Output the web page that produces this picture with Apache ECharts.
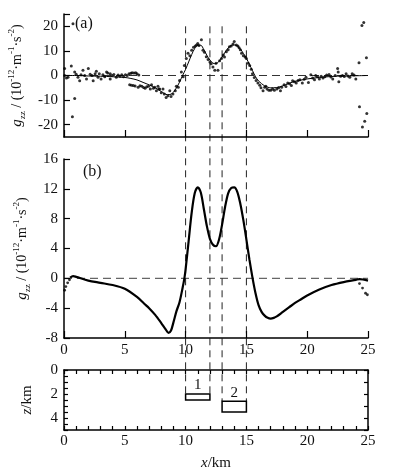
<!DOCTYPE html>
<html lang="en">
<head>
    <meta charset="UTF-8"/>
    <title>gzz</title>
    <script src="https://cdn.jsdelivr.net/npm/echarts@6/dist/echarts.min.js"></script>
    <style>
        html, body { margin: 0; padding: 0; background: #fff; }
        #main { width: 398px; height: 473px; }
    </style>
</head>
<body>
<div id="main"></div>
<script type="text/javascript">
    // (a) 观测数据（带噪声）与理论曲线
    var aDots = [
        [0.05, 2.8], [0.05, 0], [0.2, -1], [0.33, -0.7], [0.6, 3.9], [0.74, 21], [0.69, -16.8], [0.88, -9.3],
        [0.88, 1.4], [1.0, 0.5], [1.15, -0.7], [1.29, -2.1], [1.4, 0.3], [1.56, 2.1], [1.7, 0], [1.85, -1.4],
        [2.0, 2.8], [2.15, 0.5], [2.3, 0], [2.4, -2.1], [2.56, 0.7], [2.66, 1.7], [2.8, -0.7], [2.9, 0.7],
        [3.05, -1.4], [3.2, 0.3], [3.35, -0.5], [3.5, 1.4], [3.6, 1.0], [3.8, 0.7], [3.8, -1.4], [3.95, 0],
        [4.1, 0.4], [4.3, -0.7], [4.45, 0.2], [4.6, -0.3], [4.75, 0.3], [4.9, -0.5], [5.05, 0.3], [5.2, 0],
        [5.35, 0.7], [5.5, 0.9], [5.6, 1.1], [5.75, 1.0], [5.9, 1.1], [6.0, 0.7], [6.15, 0.2],
        [5.4, -3.8], [5.55, -4.0], [5.7, -4.1], [5.85, -4.3], [6.1, -4.8], [6.25, -4.2], [6.4, -4.4],
        [6.55, -4.9], [6.67, -5.2], [6.8, -4.6], [6.95, -4.4], [7.1, -5.5], [7.2, -3.8], [7.35, -5.2],
        [7.46, -4.8], [7.6, -6.2], [7.73, -4.4], [7.8, -5.5], [7.87, -5.5], [8.0, -7.0], [8.14, -5.5],
        [8.25, -7.5], [8.4, -8.9], [8.55, -8.2], [8.7, -6.2], [8.8, -8.5], [8.96, -7.5], [9.15, -6.2],
        [9.24, -4.4], [9.4, -4.8], [9.5, -2.0], [9.65, 1.4], [9.8, -0.5], [9.9, 4.1], [10.06, 6.9],
        [10.2, 9.0], [10.35, 8.0], [10.5, 10.3], [10.65, 11.5], [10.8, 12.0], [10.9, 12.4], [11.0, 13.0],
        [11.1, 12.2], [11.3, 14.5], [11.43, 10.3], [11.55, 9.5], [11.7, 7.6], [11.85, 6.5], [12.0, 5.5],
        [12.1, 4.8], [12.25, 3.5], [12.4, 2.1], [12.5, 5.0], [12.66, 2.1], [12.8, 6.0], [12.95, 6.9],
        [13.1, 8.3], [13.2, 7.5], [13.35, 9.7], [13.5, 10.5], [13.6, 11.7], [13.75, 12.0], [13.9, 12.8],
        [14.0, 13.8], [14.17, 12.4], [14.3, 12.0], [14.4, 11.3], [14.5, 10.5], [14.6, 9.0], [14.75, 8.0],
        [14.9, 7.5], [15.0, 6.9], [15.15, 5.0], [15.27, 4.1], [15.4, 2.5], [15.5, 0.7], [15.65, -0.8],
        [15.8, -2.0], [15.95, -3.0], [16.1, -4.0], [16.2, -5.0], [16.37, -6.2], [16.5, -4.8], [16.6, -4.4],
        [16.7, -5.5], [16.85, -6.0], [17.0, -6.0], [17.15, -5.5], [17.3, -6.0], [17.5, -5.5], [17.65, -5.0],
        [17.8, -6.2], [17.9, -4.8], [18.1, -3.8], [18.25, -4.5], [18.4, -3.0], [18.55, -3.4], [18.7, -4.1],
        [18.8, -2.1], [18.95, -2.5], [19.1, -3.0], [19.25, -2.0], [19.4, -1.7], [19.6, -3.0], [19.75, -1.5],
        [19.9, -0.7], [20.1, -2.8], [20.3, 0.3], [20.45, -1.0], [20.6, -1.7], [20.7, 0], [20.85, -0.5],
        [21.0, -1.4], [21.15, -0.3], [21.3, -1.0], [21.45, -0.5], [21.6, 0.2], [21.8, 0.4], [21.95, -0.6],
        [22.1, -1.4], [22.3, 0], [22.5, 2.8], [22.55, 1.4], [22.6, -2.5], [22.75, -0.3], [22.9, 0],
        [23.05, -0.4], [23.2, 0.7], [23.35, -0.2], [23.5, -0.7], [23.7, 0.7], [23.85, 0.2], [24.0, -1.4],
        [24.26, 5.2], [24.87, 7.2], [24.5, 20.3], [24.65, 21.5], [24.3, -12.7], [24.9, -15.4],
        [24.73, -18.6], [24.54, -20.9]
    ];
    var aLineX = [0, 1, 2, 3, 4, 5, 5.5, 6, 6.5, 7, 7.5, 8, 8.5, 8.8, 9.0, 9.25, 9.5, 9.75, 10, 10.25, 10.5,
        10.75, 11, 11.25, 11.5, 11.75, 12, 12.25, 12.5, 12.75, 13, 13.25, 13.5, 13.75, 14, 14.25, 14.5, 14.75,
        15, 15.25, 15.5, 15.75, 16, 16.5, 17, 17.5, 18, 18.5, 19, 20, 21, 22, 23, 24, 25];
    var aLineY = [0, 0, -0.2, -0.3, -0.5, -0.8, -1.2, -1.8, -2.8, -3.8, -5, -6.5, -7.8, -7.6, -6.8, -5, -2.7, 0,
        2.5, 5.5, 8.5, 11, 12.3, 12.3, 10.5, 8.2, 6.3, 5, 4.8, 5.8, 7.5, 9.5, 11.2, 12.2, 12.4, 12, 10.8, 9,
        7, 4.5, 2, -0.5, -2.2, -4.2, -5, -4.9, -4.2, -3.2, -2.4, -1.4, -0.8, -0.4, -0.2, -0.1, 0];

    // (b) 处理结果
    var bLineX = [0.5, 0.75, 1, 2, 3, 4, 5, 6, 6.6, 7, 7.5, 8, 8.3, 8.6, 8.8, 9.0, 9.25, 9.5, 9.75, 9.9, 10,
        10.25, 10.5, 10.75, 11, 11.25, 11.5, 11.75, 12, 12.25, 12.5, 12.75, 13, 13.25, 13.5, 13.75, 14, 14.25,
        14.5, 14.75, 15, 15.25, 15.5, 15.75, 16, 16.25, 16.5, 16.75, 17, 17.25, 17.5, 18, 18.5, 19, 19.5, 20,
        21, 22, 23, 24, 24.3, 25];
    var bLineY = [0.1, 0.3, 0.2, -0.3, -0.6, -0.9, -1.4, -2.5, -3.4, -4.0, -4.9, -6.0, -6.7, -7.3, -7.0, -5.9,
        -4.4, -3.2, -1.3, 0, 1.2, 5.0, 8.8, 11.4, 12.2, 11.5, 9.3, 7.0, 5.3, 4.5, 4.3, 5.2, 7.2, 9.6, 11.4,
        12.1, 12.2, 11.6, 10.0, 7.8, 5.2, 2.5, 0.1, -2.0, -3.6, -4.5, -5.0, -5.3, -5.4, -5.3, -5.1, -4.5,
        -3.9, -3.3, -2.8, -2.3, -1.5, -0.9, -0.5, -0.2, -0.1, -0.3];
    var bDots = [[0.05, -1.6], [0.15, -1.1], [0.3, -0.6], [0.45, -0.2],
        [24.3, -0.7], [24.55, -1.3], [24.8, -2.0], [24.95, -2.2]];

    // (c) 模型体
    var bodyName = ['1', '2'];
    var bodyX0 = [10, 13];
    var bodyX1 = [12, 15];
    var bodyTop = [2.0, 2.6];
    var bodyBottom = [2.5, 3.5];

    // 刻度
    var aTicks = [-20, -10, 0, 10, 20];
    var xMajor = [0, 5, 10, 15, 20, 25];
    var zLabels = [0, 2, 4];
    var dashX = [10, 12, 13, 15];
    var dashTop = 20;

    var serif = '"Liberation Serif", "DejaVu Serif", serif';
    var ink = '#111';

    function zip(xs, ys) {
        return xs.map(function (x, i) { return [x, ys[i]]; });
    }

    var gzzName = '{g|g}{sub|zz}{t| / (10}{sup|-12}{t|·m}{sup|-1}{t|·s}{sup|-2}{t|)}';
    var gzzRich = {
        g: {fontFamily: serif, fontStyle: 'italic', fontSize: 15, lineHeight: 20, color: ink},
        sub: {fontFamily: serif, fontSize: 9, verticalAlign: 'bottom', color: ink},
        t: {fontFamily: serif, fontSize: 14, lineHeight: 20, color: ink},
        sup: {fontFamily: serif, fontSize: 9, verticalAlign: 'top', color: ink}
    };
    var unitRich = {
        i: {fontFamily: serif, fontStyle: 'italic', fontSize: 15, color: ink},
        t: {fontFamily: serif, fontSize: 15, color: ink}
    };

    var axisLine = {onZero: false, lineStyle: {color: '#000', width: 1.5}};
    var labelStyle = {fontFamily: serif, fontSize: 15, color: ink};

    var myChart = echarts.init(document.getElementById('main'));

    var option = {
        animation: false,
        backgroundColor: '#fff',
        grid: [
            {left: 64, width: 304, top: 14, height: 123, outerBoundsMode: 'none'},
            {left: 64, width: 304, top: 159, height: 179, outerBoundsMode: 'none'},
            {left: 64, width: 304, top: 370, height: 60, outerBoundsMode: 'none'}
        ],
        xAxis: [
            {
                type: 'value', gridIndex: 0, min: 0, max: 25, interval: 5,
                axisLine: axisLine, axisTick: {inside: true, length: 7, lineStyle: {color: '#000', width: 1.2}},
                axisLabel: {show: false}, splitLine: {show: false}
            },
            {
                type: 'value', gridIndex: 1, min: 0, max: 25, interval: 5,
                axisLine: axisLine, axisTick: {inside: true, length: 7, lineStyle: {color: '#000', width: 1.2}},
                axisLabel: Object.assign({margin: 5}, labelStyle), splitLine: {show: false}
            },
            {
                type: 'value', gridIndex: 2, min: 0, max: 25, interval: 1,
                axisLine: axisLine, axisTick: {inside: true, length: 4, lineStyle: {color: '#000', width: 1.2}},
                axisLabel: Object.assign({margin: 4, customValues: xMajor}, labelStyle), splitLine: {show: false},
                name: '{i|x}{t|/km}', nameLocation: 'middle', nameGap: 26,
                nameTextStyle: {rich: unitRich}
            },
            {
                type: 'value', gridIndex: 2, position: 'top', min: 0, max: 25, interval: 1,
                axisLine: axisLine, axisTick: {inside: true, length: 4, lineStyle: {color: '#000', width: 1.2}},
                axisLabel: {show: false}, splitLine: {show: false}
            }
        ],
        yAxis: [
            {
                type: 'value', gridIndex: 0, min: -25, max: 25,
                axisLine: axisLine,
                axisTick: {inside: true, length: 6, customValues: aTicks.concat([25]), lineStyle: {color: '#000', width: 1.2}},
                axisLabel: Object.assign({margin: 6, customValues: aTicks}, labelStyle), splitLine: {show: false},
                name: gzzName, nameLocation: 'middle', nameRotate: 90, nameGap: 35,
                nameTextStyle: {rich: gzzRich}
            },
            {
                type: 'value', gridIndex: 1, min: -8, max: 16, interval: 4,
                axisLine: axisLine, axisTick: {inside: true, length: 6, lineStyle: {color: '#000', width: 1.2}},
                axisLabel: Object.assign({margin: 6}, labelStyle), splitLine: {show: false},
                name: gzzName, nameLocation: 'middle', nameRotate: 90, nameGap: 28,
                nameTextStyle: {rich: gzzRich}
            },
            {
                type: 'value', gridIndex: 2, position: 'left', min: 0, max: 5, interval: 0.5, inverse: true,
                axisLine: axisLine, axisTick: {inside: true, length: 4, lineStyle: {color: '#000', width: 1.2}},
                axisLabel: Object.assign({margin: 6, customValues: zLabels}, labelStyle), splitLine: {show: false},
                name: '{i|z}{t|/km}', nameLocation: 'middle', nameRotate: 90, nameGap: 29,
                nameTextStyle: {rich: unitRich}
            },
            {
                type: 'value', gridIndex: 2, position: 'right', min: 0, max: 5, interval: 1, inverse: true,
                axisLine: axisLine, axisTick: {inside: true, length: 4, lineStyle: {color: '#000', width: 1.2}},
                axisLabel: {show: false}, splitLine: {show: false}
            }
        ],
        series: [
            {
                name: 'a-line', type: 'line', xAxisIndex: 0, yAxisIndex: 0,
                data: zip(aLineX, aLineY), smooth: 0.3, showSymbol: false,
                lineStyle: {color: '#000', width: 1}
            },
            {
                name: 'a-dots', type: 'scatter', xAxisIndex: 0, yAxisIndex: 0,
                data: aDots, symbolSize: 3, itemStyle: {color: '#000'}
            },
            {
                name: 'b-line', type: 'line', xAxisIndex: 1, yAxisIndex: 1,
                data: zip(bLineX, bLineY), smooth: 0.3, showSymbol: false,
                lineStyle: {color: '#000', width: 2.2}
            },
            {
                name: 'b-dots', type: 'scatter', xAxisIndex: 1, yAxisIndex: 1,
                data: bDots, symbolSize: 2.8, itemStyle: {color: '#000'}
            },
            {
                name: 'bodies', type: 'custom', xAxisIndex: 2, yAxisIndex: 2,
                data: bodyName.map(function (n, i) {
                    return [bodyX0[i], bodyX1[i], bodyTop[i], bodyBottom[i], n];
                }),
                renderItem: function (params, api) {
                    var p0 = api.coord([api.value(0), api.value(2)]);
                    var p1 = api.coord([api.value(1), api.value(3)]);
                    return {
                        type: 'group',
                        children: [
                            {
                                type: 'rect',
                                shape: {x: p0[0], y: p0[1], width: p1[0] - p0[0], height: p1[1] - p0[1]},
                                style: {fill: 'none', stroke: '#000', lineWidth: 1.5}
                            },
                            {
                                type: 'text',
                                style: {
                                    text: bodyName[params.dataIndex],
                                    x: (p0[0] + p1[0]) / 2, y: p0[1] - 1,
                                    align: 'center', verticalAlign: 'bottom',
                                    font: '15px ' + serif, fill: ink
                                }
                            }
                        ]
                    };
                }
            }
        ]
    };

    myChart.setOption(option);

    // 竖直虚线：从 (a) 贯穿到模型体顶面；零值虚线
    var dashEnd = [bodyTop[0], bodyTop[0], bodyTop[1], bodyTop[1]];
    var gfx = dashX.map(function (x, i) {
        var p0 = myChart.convertToPixel({xAxisIndex: 0, yAxisIndex: 0}, [x, dashTop]);
        var p1 = myChart.convertToPixel({xAxisIndex: 2, yAxisIndex: 2}, [x, dashEnd[i]]);
        return {
            type: 'line', silent: true,
            shape: {x1: p0[0], y1: p0[1], x2: p1[0], y2: p1[1]},
            style: {stroke: '#222', lineWidth: 1, lineDash: [7, 5]}
        };
    });
    [[0, '#333'], [1, '#666']].forEach(function (z) {
        var q0 = myChart.convertToPixel({xAxisIndex: z[0], yAxisIndex: z[0]}, [0, 0]);
        var q1 = myChart.convertToPixel({xAxisIndex: z[0], yAxisIndex: z[0]}, [25, 0]);
        gfx.push({
            type: 'line', silent: true, z: -1,
            shape: {x1: q0[0], y1: q0[1], x2: q1[0], y2: q1[1]},
            style: {stroke: z[1], lineWidth: 1.2, lineDash: [8, 5]}
        });
    });
    gfx.push({type: 'text', left: 75, top: 16, style: {text: '(a)', font: '16px ' + serif, fill: ink}});
    gfx.push({type: 'text', left: 83, top: 164, style: {text: '(b)', font: '16px ' + serif, fill: ink}});
    myChart.setOption({graphic: gfx});
</script>
</body>
</html>
